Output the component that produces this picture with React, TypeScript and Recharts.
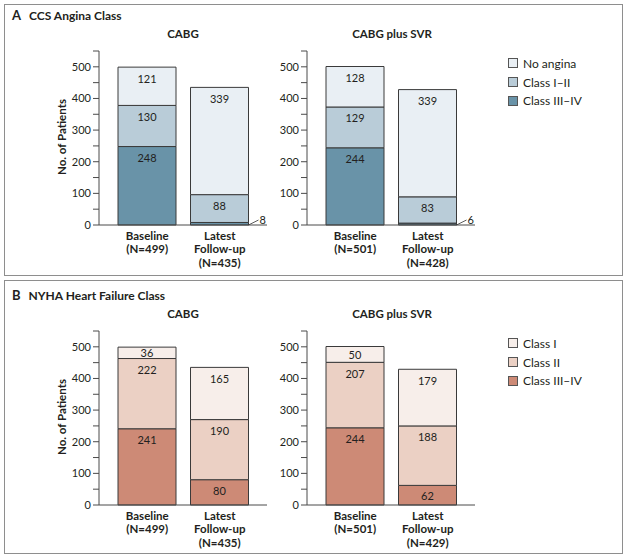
import React from "react";
import { BarChart, Bar, XAxis, YAxis, LabelList } from "recharts";

// groups on the x axis
const groups = ["Baseline", "Latest Follow-up"];
const groupLines = [["Baseline"], ["Latest", "Follow-up"]];

// A: CCS angina class
const anginaClasses = ["No angina", "Class I\u2013II", "Class III\u2013IV"];
const anginaColors = ["#e9eff4", "#b9ccd8", "#6993a8"];
const cabgAnginaN = [499, 435];
const cabgAnginaSevere = [248, 8];
const cabgAnginaMild = [130, 88];
const cabgAnginaNone = [121, 339];
const svrAnginaN = [501, 428];
const svrAnginaSevere = [244, 6];
const svrAnginaMild = [129, 83];
const svrAnginaNone = [128, 339];

// B: NYHA heart failure class
const nyhaClasses = ["Class I", "Class II", "Class III\u2013IV"];
const nyhaColors = ["#f7eeea", "#ebd0c4", "#cd8a76"];
const cabgNyhaN = [499, 435];
const cabgNyha3 = [241, 80];
const cabgNyha2 = [222, 190];
const cabgNyha1 = [36, 165];
const svrNyhaN = [501, 429];
const svrNyha3 = [244, 62];
const svrNyha2 = [207, 188];
const svrNyha1 = [50, 179];

const yTicks = [0, 50, 100, 150, 200, 250, 300, 350, 400, 450, 500, 550];

const FONT = "Lato, 'Noto Sans', sans-serif";
const INK = "#231f20";
const AXIS = "#4a4a4a";

const buildRows = (n: number[], low: number[], mid: number[], top: number[]) =>
  groups.map((g, i) => ({ group: g, idx: i, n: n[i], low: low[i], mid: mid[i], top: top[i] }));

const SegLabel = (props: any) => {
  const { x, y, width, height, value } = props;
  if (value == null) return null;
  if (height < 8) {
    const x0 = x + width;
    const y0 = y + height;
    return (
      <g>
        <line x1={x0} y1={y0} x2={x0 + 10} y2={y0 - 5} stroke="#333" strokeWidth={0.8} />
        <text x={x0 + 11} y={y0 - 6} fontSize={11} fill={INK} dominantBaseline="central" fontFamily={FONT}>
          {value}
        </text>
      </g>
    );
  }
  return (
    <text
      x={x + width / 2}
      y={y + Math.min(11, height / 2)}
      textAnchor="middle"
      dominantBaseline="central"
      fontSize={11}
      fill={INK}
      fontFamily={FONT}
    >
      {value}
    </text>
  );
};

function StackChart({ rows, colors, left, top, width, yWidth }: any) {
  const GroupTick = (p: any) => {
    const i = p.index ?? p.payload?.index ?? 0;
    const lines = [...groupLines[i], `(N=${rows[i].n})`];
    return (
      <text x={p.x} y={225 + 14.5} textAnchor="middle" fontSize={11.5} fontWeight={700} fill={INK} fontFamily={FONT}>
        {lines.map((l, k) => (
          <tspan key={k} x={p.x} dy={k === 0 ? 0 : 13.5}>
            {l}
          </tspan>
        ))}
      </text>
    );
  };
  return (
    <div style={{ position: "absolute", left, top }}>
      <BarChart
        width={width}
        height={275}
        data={rows}
        margin={{ top: 51, right: 13, bottom: 0, left: 0 }}
        barSize={58}
      >
        <XAxis
          dataKey="group"
          height={50}
          padding={{ left: 12, right: 11 }}
          tickLine={false}
          axisLine={{ stroke: AXIS, strokeWidth: 1 }}
          tick={GroupTick}
          interval={0}
        />
        <YAxis
          width={yWidth}
          domain={[0, 550]}
          ticks={yTicks}
          interval={0}
          tickSize={6}
          tickLine={{ stroke: AXIS }}
          axisLine={{ stroke: AXIS }}
          tickFormatter={(v: number) => (v % 100 === 0 ? String(v) : "")}
          tick={{ fontSize: 11, fill: INK, fontFamily: FONT }}
        />
        <Bar dataKey="low" stackId="s" fill={colors[2]} stroke="#3a3a3a" strokeWidth={1} isAnimationActive={false}>
          <LabelList dataKey="low" content={SegLabel} />
        </Bar>
        <Bar dataKey="mid" stackId="s" fill={colors[1]} stroke="#3a3a3a" strokeWidth={1} isAnimationActive={false}>
          <LabelList dataKey="mid" content={SegLabel} />
        </Bar>
        <Bar dataKey="top" stackId="s" fill={colors[0]} stroke="#3a3a3a" strokeWidth={1} isAnimationActive={false}>
          <LabelList dataKey="top" content={SegLabel} />
        </Bar>
      </BarChart>
    </div>
  );
}

function Legend({ names, colors, top }: any) {
  return (
    <div style={{ position: "absolute", left: 508, top }}>
      {names.map((name: string, i: number) => (
        <div key={name} style={{ display: "flex", alignItems: "center", height: 18.7, fontSize: 12, color: INK }}>
          <div
            style={{
              width: 8,
              height: 8,
              background: colors[i],
              border: "1px solid #555",
              marginRight: 5,
            }}
          />
          {name}
        </div>
      ))}
    </div>
  );
}

function Section({ top, letter, title, cabgRows, svrRows, names, colors }: any) {
  const txt = (s: any) => ({ position: "absolute" as const, fontFamily: FONT, color: INK, ...s });
  return (
    <div style={{ position: "absolute", left: 0, top, width: 628, height: 276 }}>
      <div style={txt({ left: 12, top: 7, fontSize: 13, fontWeight: 700, whiteSpace: "nowrap" })}>
        {letter}
        <span style={{ marginLeft: 8, fontSize: 12 }}>{title}</span>
      </div>
      <div style={txt({ left: 133, width: 100, top: 27, textAlign: "center", fontSize: 11.5, fontWeight: 700 })}>CABG</div>
      <div style={txt({ left: 332, width: 120, top: 27, textAlign: "center", fontSize: 11.5, fontWeight: 700 })}>
        CABG plus SVR
      </div>
      <div
        style={txt({
          left: 61,
          top: 137,
          fontSize: 11.5,
          fontWeight: 700,
          whiteSpace: "nowrap",
          transform: "translate(-50%, -50%) rotate(-90deg)",
        })}
      >
        No. of Patients
      </div>
      <StackChart rows={cabgRows} colors={colors} left={0} top={0} width={280} yWidth={99} />
      <StackChart rows={svrRows} colors={colors} left={250} top={0} width={238} yWidth={57} />
      <Legend names={names} colors={colors} top={54} />
    </div>
  );
}

export default function App() {
  const cabgA = buildRows(cabgAnginaN, cabgAnginaSevere, cabgAnginaMild, cabgAnginaNone);
  const svrA = buildRows(svrAnginaN, svrAnginaSevere, svrAnginaMild, svrAnginaNone);
  const cabgB = buildRows(cabgNyhaN, cabgNyha3, cabgNyha2, cabgNyha1);
  const svrB = buildRows(svrNyhaN, svrNyha3, svrNyha2, svrNyha1);

  return (
    <div
      style={{
        position: "absolute",
        left: 0,
        top: 0,
        width: 628,
        height: 559,
        background: "#fff",
        fontFamily: FONT,
      }}
    >
      <div style={{ position: "absolute", left: 4, top: 4, width: 617, height: 270, border: "1.5px solid #8e8e8e" }} />
      <div style={{ position: "absolute", left: 4, top: 280, width: 617, height: 272, border: "1.5px solid #8e8e8e" }} />
      <Section
        top={0}
        letter="A"
        title="CCS Angina Class"
        cabgRows={cabgA}
        svrRows={svrA}
        names={anginaClasses}
        colors={anginaColors}
      />
      <Section
        top={280}
        letter="B"
        title="NYHA Heart Failure Class"
        cabgRows={cabgB}
        svrRows={svrB}
        names={nyhaClasses}
        colors={nyhaColors}
      />
    </div>
  );
}
